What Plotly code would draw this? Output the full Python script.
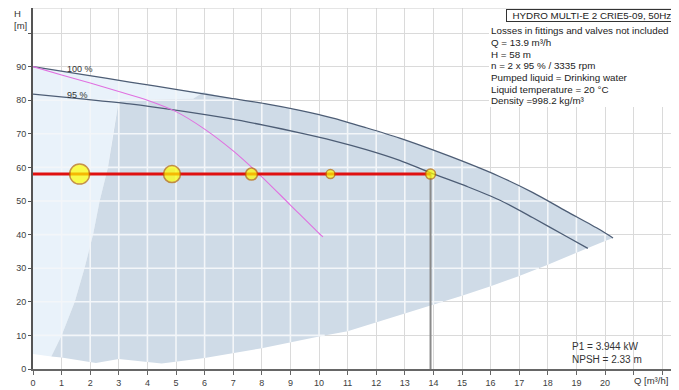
import numpy as np
import plotly.graph_objects as go

# ---------------- data ----------------
q_100 = [0, 1.7, 3.38, 5.1, 6.88, 8.1, 9.33, 10.49, 11.65, 12.82, 13.98, 15.15, 16.31, 17.48, 18.64, 19.81, 20.28]
h_100 = [90, 87.7, 85.4, 83.1, 80.6, 79.0, 77.0, 74.7, 71.8, 68.7, 65.2, 61.4, 57.3, 52.5, 47.0, 41.5, 39.0]

q_95 = [0, 1.7, 3.38, 5.1, 6.88, 8.1, 9.33, 10.49, 11.65, 12.82, 13.9, 15.15, 16.31, 17.48, 18.64, 19.4]
h_95 = [81.8, 80.4, 78.9, 76.9, 74.5, 72.5, 70.3, 68.0, 65.3, 62.1, 58.4, 54.4, 50.3, 45.0, 39.5, 35.9]

q_max = [0, 1, 2, 3, 4, 5, 6, 7, 8, 9, 10, 10.14]
h_max = [90, 87.5, 85.1, 82.6, 80.0, 76.6, 71.4, 64.9, 57.2, 48.8, 40.4, 39.3]

# lower boundary of the operating area
q_low = [0, 0.64, 1.0, 2.2, 3.0, 4.5, 6.0, 8.0, 10.0, 11.0, 12.0, 13.0, 14.0, 15.0, 16.0, 17.0, 18.0, 19.0, 20.0, 20.28]
h_low = [4.5, 3.7, 3.4, 1.8, 3.0, 1.6, 3.3, 6.2, 9.7, 11.2, 13.9, 16.5, 19.1, 21.8, 24.6, 27.7, 31.0, 34.6, 38.1, 39.0]

# edge between the light and the dark area
q_edge = [0.64, 1.0, 1.46, 1.8, 2.1, 2.33, 2.62, 2.8, 3.0, 5.6, 5.95]
h_edge = [3.7, 10, 20, 30, 40, 50, 60, 70, 80.0, 80.4, 82.4]

duty_q = 13.9
duty_h = 58
marker_q = [1.63, 4.86, 7.64, 10.4, 13.9]
marker_size = [20, 17, 12, 9, 10]

x_ticks = list(range(0, 23))
x_labels = [str(v) for v in range(0, 21)] + ["", ""]
y_ticks = list(range(0, 101, 10))
y_labels = [str(v) for v in range(0, 91, 10)] + [""]

title_text = "HYDRO MULTI-E 2 CRIE5-09, 50Hz"
info_lines = [
    "Losses in fittings and valves not included",
    "Q = 13.9 m³/h",
    "H = 58 m",
    "n = 2 x 95 % / 3335 rpm",
    "Pumped liquid = Drinking water",
    "Liquid temperature = 20 °C",
    "Density =998.2 kg/m³",
]
p1_text = "P1 = 3.944 kW"
npsh_text = "NPSH = 2.33 m"

# ---------------- layout geometry ----------------
# page body has an 8px margin, so the figure is 8px smaller and margins shifted
PLOT_X0, PLOT_X1 = 33, 672      # window pixels of the plot area
PLOT_Y0, PLOT_Y1 = 8, 369
PW = PLOT_X1 - PLOT_X0
PH = PLOT_Y1 - PLOT_Y0
X_MAX = PW / 28.6
Y_MAX = PH / 3.36
FONT = "Liberation Sans, Arial, sans-serif"


def px(X):
    return (X - PLOT_X0) / PW


def py(Y):
    return 1 - (Y - PLOT_Y0) / PH


cut = q_edge[-1]
curve_after = [(q, h) for q, h in zip(q_100, h_100) if q > cut]
curve_before = [(q, h) for q, h in zip(q_100, h_100) if q < cut]

dark_x = list(q_edge) + [p[0] for p in curve_after] + list(reversed(q_low[1:]))
dark_y = list(h_edge) + [p[1] for p in curve_after] + list(reversed(h_low[1:]))

light_x = [q_low[0]] + list(q_edge) + [p[0] for p in reversed(curve_before)]
light_y = [h_low[0]] + list(h_edge) + [p[1] for p in reversed(curve_before)]

# grid segments inside the shaded area (drawn lighter, on top of the fill)
xs = np.linspace(0, q_100[-1], 6000)
upper = np.interp(xs, q_100, h_100)
lower = np.interp(xs, q_low, h_low)
gx, gy = [], []
for k in range(1, 21):
    gx += [k, k, None]
    gy += [float(np.interp(k, q_low, h_low)), float(np.interp(k, q_100, h_100)), None]
for c in range(10, 101, 10):
    inside = (lower < c) & (upper > c)
    idx = np.flatnonzero(np.diff(np.r_[0, inside.astype(int), 0]))
    for s, e in zip(idx[::2], idx[1::2]):
        gx += [float(xs[s]), float(xs[e - 1]), None]
        gy += [c, c, None]

fig = go.Figure()

fig.add_trace(go.Scatter(x=light_x, y=light_y, fill="toself", mode="lines",
                         line=dict(width=0), fillcolor="#e9f2fa", hoverinfo="skip"))
fig.add_trace(go.Scatter(x=dark_x, y=dark_y, fill="toself", mode="lines",
                         line=dict(width=0), fillcolor="#cfdbe7", hoverinfo="skip"))
fig.add_trace(go.Scatter(x=gx, y=gy, mode="lines",
                         line=dict(color="#f3f6f9", width=1.6), hoverinfo="skip"))

fig.add_trace(go.Scatter(x=q_100, y=h_100, mode="lines",
                         line=dict(color="#4d5d75", width=1.3, shape="spline", smoothing=0.8)))
fig.add_trace(go.Scatter(x=q_95, y=h_95, mode="lines",
                         line=dict(color="#4d5d75", width=1.3, shape="spline", smoothing=0.8)))
fig.add_trace(go.Scatter(x=q_max, y=h_max, mode="lines",
                         line=dict(color="#e070e0", width=1.1, shape="spline", smoothing=0.8)))

fig.add_trace(go.Scatter(x=[duty_q, duty_q], y=[0, duty_h], mode="lines",
                         line=dict(color="#8a8a8a", width=2)))
fig.add_trace(go.Scatter(x=[0, duty_q], y=[duty_h, duty_h], mode="lines",
                         line=dict(color="#e01010", width=3)))
fig.add_trace(go.Scatter(x=marker_q, y=[duty_h] * len(marker_q), mode="markers",
                         marker=dict(size=marker_size, color="#ffff00",
                                     line=dict(color="#b86a00", width=1.5))))

# 100 % / 95 % labels
fig.add_annotation(x=1.64, y=89.2, text="100 %", showarrow=False,
                   font=dict(family=FONT, size=9, color="#333"))
fig.add_annotation(x=1.56, y=81.6, text="95 %", showarrow=False,
                   font=dict(family=FONT, size=9, color="#333"))

# info box background
fig.add_shape(type="rect", xref="paper", yref="paper",
              x0=px(489), x1=1.0, y0=py(107), y1=1.0,
              fillcolor="white", line=dict(width=0), layer="above")
# frame top / right
fig.add_shape(type="line", xref="paper", yref="paper", x0=0, x1=1, y0=1, y1=1,
              line=dict(color="#cccccc", width=1), layer="above")
fig.add_shape(type="line", xref="paper", yref="paper", x0=1, x1=1, y0=0, y1=1,
              line=dict(color="#a0a0a0", width=1), layer="above")

fig.add_annotation(xref="paper", yref="paper", x=1, y=py(8.5), xanchor="right", yanchor="top",
                   text="\u00a0\u00a0" + title_text, showarrow=False, bgcolor="white",
                   bordercolor="#333", borderwidth=1, borderpad=0,
                   font=dict(family=FONT, size=9.8, color="#222"))
for i, line in enumerate(info_lines):
    fig.add_annotation(xref="paper", yref="paper", x=px(489), y=py(30.8 + i * 11.65),
                       xanchor="left", yanchor="middle", text=line, showarrow=False,
                       font=dict(family=FONT, size=9.8, color="#222"))

fig.add_annotation(x=18.76, y=6.7, xanchor="left", text=p1_text, showarrow=False,
                   font=dict(family=FONT, size=10, color="#333"))
fig.add_annotation(x=18.76, y=2.8, xanchor="left", text=npsh_text, showarrow=False,
                   font=dict(family=FONT, size=10, color="#333"))

fig.add_annotation(x=21.6, xref="x", yref="paper", y=py(380), yanchor="middle",
                   text="Q [m³/h]", showarrow=False,
                   font=dict(family=FONT, size=9.5, color="#333"))
fig.add_annotation(xref="paper", yref="paper", x=px(12), y=py(14), yanchor="middle",
                   text="H", showarrow=False, font=dict(family=FONT, size=9.5, color="#333"))
fig.add_annotation(xref="paper", yref="paper", x=px(11.5), y=py(25.5), yanchor="middle",
                   text="[m]", showarrow=False, font=dict(family=FONT, size=9.5, color="#333"))

fig.update_layout(
    width=679 - 8, height=390 - 8,
    margin=dict(l=PLOT_X0 - 8, r=679 - PLOT_X1, t=PLOT_Y0 - 8, b=390 - PLOT_Y1, pad=0),
    paper_bgcolor="white", plot_bgcolor="white",
    showlegend=False,
    xaxis=dict(range=[0, X_MAX], tickvals=x_ticks, ticktext=x_labels,
               showgrid=True, gridcolor="#dadada", gridwidth=1, zeroline=False,
               showline=True, linecolor="#666", linewidth=2,
               ticks="outside", ticklen=4, tickcolor="#666",
               tickfont=dict(family=FONT, size=9, color="#404040")),
    yaxis=dict(range=[0, Y_MAX], tickvals=y_ticks, ticktext=y_labels,
               showgrid=True, gridcolor="#dadada", gridwidth=1, zeroline=False,
               showline=True, linecolor="#555", linewidth=2,
               ticks="outside", ticklen=3, tickcolor="#555",
               tickfont=dict(family=FONT, size=9, color="#404040")),
)

fig.write_html("out.html")
